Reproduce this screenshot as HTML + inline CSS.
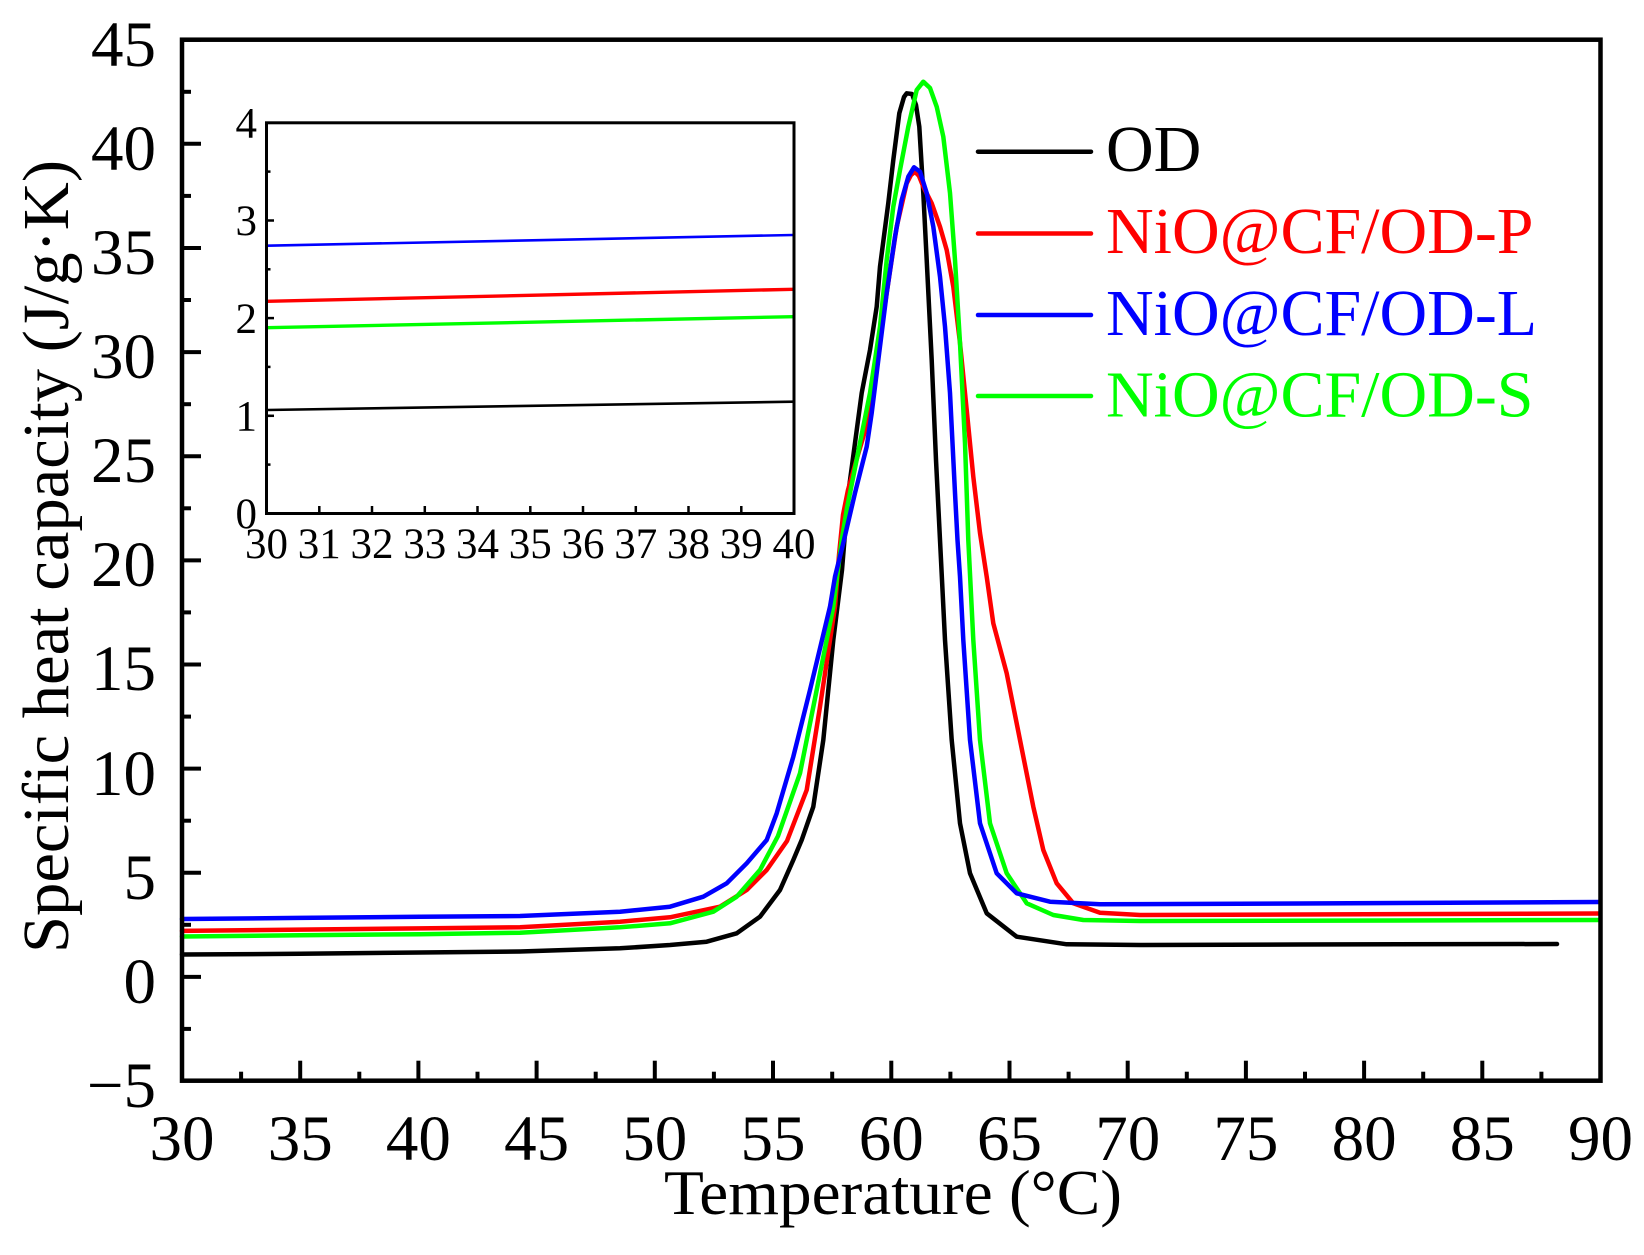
<!DOCTYPE html>
<html>
<head>
<meta charset="utf-8">
<style>
  html, body { margin: 0; padding: 0; background: #fff; }
  svg { display: block; }
  text { font-family: "Liberation Serif", "Times New Roman", serif; }
</style>
</head>
<body>
<svg width="1644" height="1255" viewBox="0 0 1644 1255" xmlns="http://www.w3.org/2000/svg">
  <rect x="0" y="0" width="1644" height="1255" fill="#fff"/>

  <!-- Main curves -->
  <g fill="none" stroke-linejoin="round" stroke-linecap="round" stroke-width="4.5">
    <!-- OD black -->
    <polyline stroke="#000" points="182,954.5 300,953.8 420,952.5 520,951.5 620,948.3 670,945 706.7,941.7 736.7,933.3 760,916.7 780,890 793.3,860 801.7,840 813.3,806.7 823.3,740 833.3,640 842,570 848.3,493 855,443 861.7,393 870,350 876.7,306.7 880,266.7 888.3,203 893.3,160 899.3,113.3 904,97 906.7,93.3 912,94 916,105 919.3,126.7 923.3,193 926.7,260 931.7,360 936,460 940,540 945,640 951.7,740 960,823.3 970,873.3 986.7,913.3 1016.7,936.7 1066.7,944.3 1140,945 1300,944.5 1557,944"/>
    <!-- NiO@CF/OD-P red -->
    <polyline stroke="#ff0000" points="182,930.9 300,929.6 420,928.4 520,927.3 620,921.7 670,917.3 720,906.7 746.7,890 766.7,870 787,841 806.7,790 820,706.7 835,606.7 839,555 843,515 848,490 857,458 868.3,420 876.7,360 886.7,293 896.7,226.7 906.7,183.3 911,175 915,171.7 919,176 923.3,186.7 931.7,203.3 940,226.7 946.7,250 953.3,286.7 960,343 966.7,410 973.3,476.7 980,533 986.7,576.7 993.3,623.3 1006.7,673.3 1020,740 1033.3,806.7 1043.3,850 1056.7,883.3 1073.3,903.3 1100,912.7 1140,915 1300,914.5 1600,913.5"/>
    <!-- NiO@CF/OD-S green -->
    <polyline stroke="#00ff00" points="182,936.5 300,935.3 420,934.2 520,932.7 620,927.3 670,923.3 713.3,911.7 736.7,896.7 760,870 778,836 800,773.3 816.7,690 833.3,606.7 841.7,540 847,508 860,443 870,393 880,326.7 886.7,260 893.3,206.7 900,170 908.3,126.7 916.7,90 923.3,81.7 930,88 936.7,106.7 943.3,136.7 950,193 955,260 960,343 965,443 968.3,540 973.3,640 980,740 990,823.3 1006.7,873.3 1026.7,903.3 1053.3,915 1083.3,920 1140,921 1600,920"/>
    <!-- NiO@CF/OD-L blue -->
    <polyline stroke="#0000ff" points="182,919 300,917.9 420,916.7 520,916 620,911.7 670,906.7 703.3,896.7 726.7,883.3 746.7,863.3 766.7,840 776.7,813.3 793.3,756.7 810,690 830,606.7 835,576.7 843.3,543 855,493 866.7,446.7 871.7,413 878.3,360 886.7,293 895,236.7 901.7,200 908.3,176.7 914,167.3 920,171.7 926.7,193 933.3,226.7 940,276.7 945,326.7 950,393 955,493 957.5,540 960,576.7 963.3,640 970,740 980,823.3 996.7,873.3 1016.7,893.3 1050,901.7 1100,904.3 1300,903.5 1600,902"/>
  </g>

  <!-- Main frame -->
  <rect x="182" y="39.7" width="1418.5" height="1041" fill="none" stroke="#000" stroke-width="4.5"/>

  <!-- Y ticks main -->
  <g stroke="#000" stroke-width="4">
    <line x1="182" y1="39.7" x2="201" y2="39.7"/>
    <line x1="182" y1="91.8" x2="191" y2="91.8"/>
    <line x1="182" y1="143.8" x2="201" y2="143.8"/>
    <line x1="182" y1="195.9" x2="191" y2="195.9"/>
    <line x1="182" y1="248" x2="201" y2="248"/>
    <line x1="182" y1="300" x2="191" y2="300"/>
    <line x1="182" y1="352.1" x2="201" y2="352.1"/>
    <line x1="182" y1="404.2" x2="191" y2="404.2"/>
    <line x1="182" y1="456.2" x2="201" y2="456.2"/>
    <line x1="182" y1="508.3" x2="191" y2="508.3"/>
    <line x1="182" y1="560.4" x2="201" y2="560.4"/>
    <line x1="182" y1="612.4" x2="191" y2="612.4"/>
    <line x1="182" y1="664.5" x2="201" y2="664.5"/>
    <line x1="182" y1="716.6" x2="191" y2="716.6"/>
    <line x1="182" y1="768.6" x2="201" y2="768.6"/>
    <line x1="182" y1="820.7" x2="191" y2="820.7"/>
    <line x1="182" y1="872.8" x2="201" y2="872.8"/>
    <line x1="182" y1="924.8" x2="191" y2="924.8"/>
    <line x1="182" y1="976.9" x2="201" y2="976.9"/>
    <line x1="182" y1="1028.9" x2="191" y2="1028.9"/>
  </g>

  <!-- X ticks main -->
  <g stroke="#000" stroke-width="4">
    <line x1="241.1" y1="1080.7" x2="241.1" y2="1071.7"/>
    <line x1="300.2" y1="1080.7" x2="300.2" y2="1060.7"/>
    <line x1="359.3" y1="1080.7" x2="359.3" y2="1071.7"/>
    <line x1="418.4" y1="1080.7" x2="418.4" y2="1060.7"/>
    <line x1="477.5" y1="1080.7" x2="477.5" y2="1071.7"/>
    <line x1="536.6" y1="1080.7" x2="536.6" y2="1060.7"/>
    <line x1="595.7" y1="1080.7" x2="595.7" y2="1071.7"/>
    <line x1="654.8" y1="1080.7" x2="654.8" y2="1060.7"/>
    <line x1="713.9" y1="1080.7" x2="713.9" y2="1071.7"/>
    <line x1="773" y1="1080.7" x2="773" y2="1060.7"/>
    <line x1="832.2" y1="1080.7" x2="832.2" y2="1071.7"/>
    <line x1="891.3" y1="1080.7" x2="891.3" y2="1060.7"/>
    <line x1="950.4" y1="1080.7" x2="950.4" y2="1071.7"/>
    <line x1="1009.5" y1="1080.7" x2="1009.5" y2="1060.7"/>
    <line x1="1068.6" y1="1080.7" x2="1068.6" y2="1071.7"/>
    <line x1="1127.7" y1="1080.7" x2="1127.7" y2="1060.7"/>
    <line x1="1186.8" y1="1080.7" x2="1186.8" y2="1071.7"/>
    <line x1="1245.9" y1="1080.7" x2="1245.9" y2="1060.7"/>
    <line x1="1305" y1="1080.7" x2="1305" y2="1071.7"/>
    <line x1="1364.1" y1="1080.7" x2="1364.1" y2="1060.7"/>
    <line x1="1423.2" y1="1080.7" x2="1423.2" y2="1071.7"/>
    <line x1="1482.3" y1="1080.7" x2="1482.3" y2="1060.7"/>
    <line x1="1541.4" y1="1080.7" x2="1541.4" y2="1071.7"/>
  </g>

  <!-- Y tick labels main -->
  <g font-size="65" text-anchor="end" fill="#000">
    <text x="156" y="66">45</text>
    <text x="156" y="170">40</text>
    <text x="156" y="274">35</text>
    <text x="156" y="378">30</text>
    <text x="156" y="482">25</text>
    <text x="156" y="586">20</text>
    <text x="156" y="690">15</text>
    <text x="156" y="795">10</text>
    <text x="156" y="899">5</text>
    <text x="156" y="1003">0</text>
    <text x="156" y="1107">−5</text>
  </g>

  <!-- X tick labels main -->
  <g font-size="65" text-anchor="middle" fill="#000">
    <text x="182" y="1160">30</text>
    <text x="300.2" y="1160">35</text>
    <text x="418.4" y="1160">40</text>
    <text x="536.6" y="1160">45</text>
    <text x="654.8" y="1160">50</text>
    <text x="773" y="1160">55</text>
    <text x="891.3" y="1160">60</text>
    <text x="1009.5" y="1160">65</text>
    <text x="1127.7" y="1160">70</text>
    <text x="1245.9" y="1160">75</text>
    <text x="1364.1" y="1160">80</text>
    <text x="1482.3" y="1160">85</text>
    <text x="1600.5" y="1160">90</text>
  </g>

  <!-- Axis titles -->
  <text x="664" y="1214" font-size="64" textLength="458" lengthAdjust="spacingAndGlyphs" fill="#000">Temperature (°C)</text>
  <text transform="translate(68,953) rotate(-90)" x="0" y="0" font-size="66" textLength="793" lengthAdjust="spacingAndGlyphs" fill="#000">Specific heat capacity (J/g·K)</text>

  <!-- Legend -->
  <g stroke-width="4.5" stroke-linecap="round">
    <line x1="978" y1="151.7" x2="1091" y2="151.7" stroke="#000"/>
    <line x1="978" y1="233.5" x2="1091" y2="233.5" stroke="#ff0000"/>
    <line x1="978" y1="315" x2="1091" y2="315" stroke="#0000ff"/>
    <line x1="978" y1="396" x2="1091" y2="396" stroke="#00ff00"/>
  </g>
  <g font-size="66">
    <text x="1106" y="171" fill="#000">OD</text>
    <text x="1106" y="253" fill="#ff0000">NiO@CF/OD-P</text>
    <text x="1106" y="335" fill="#0000ff">NiO@CF/OD-L</text>
    <text x="1106" y="416.5" fill="#00ff00">NiO@CF/OD-S</text>
  </g>

  <!-- Inset -->
  <rect x="266.5" y="122.8" width="527.5" height="390.7" fill="#fff" stroke="none"/>
  <g fill="none" stroke-linecap="butt">
    <line x1="267" y1="410" x2="793" y2="401.7" stroke="#000" stroke-width="2.6"/>
    <line x1="267" y1="327.7" x2="793" y2="316.7" stroke="#00ff00" stroke-width="3.4"/>
    <line x1="267" y1="301.3" x2="793" y2="289.3" stroke="#ff0000" stroke-width="3.4"/>
    <line x1="267" y1="245.7" x2="793" y2="235" stroke="#0000ff" stroke-width="2.6"/>
  </g>
  <rect x="266.5" y="122.8" width="527.5" height="390.7" fill="none" stroke="#000" stroke-width="3"/>
  <!-- inset y ticks -->
  <g stroke="#000" stroke-width="2.5">
    <line x1="266.5" y1="415.8" x2="270.5" y2="415.8"/>
    <line x1="266.5" y1="318.1" x2="274" y2="318.1"/>
    <line x1="266.5" y1="220.5" x2="274" y2="220.5"/>
    <line x1="266.5" y1="415.8" x2="274" y2="415.8"/>
    <line x1="266.5" y1="171.6" x2="270.5" y2="171.6"/>
    <line x1="266.5" y1="269.3" x2="270.5" y2="269.3"/>
    <line x1="266.5" y1="366.9" x2="270.5" y2="366.9"/>
    <line x1="266.5" y1="464.6" x2="270.5" y2="464.6"/>
  </g>
  <g stroke="#000" stroke-width="2.5">
    <line x1="319.3" y1="513.5" x2="319.3" y2="506"/>
    <line x1="372" y1="513.5" x2="372" y2="506"/>
    <line x1="424.8" y1="513.5" x2="424.8" y2="506"/>
    <line x1="477.5" y1="513.5" x2="477.5" y2="506"/>
    <line x1="530.3" y1="513.5" x2="530.3" y2="506"/>
    <line x1="583" y1="513.5" x2="583" y2="506"/>
    <line x1="635.8" y1="513.5" x2="635.8" y2="506"/>
    <line x1="688.5" y1="513.5" x2="688.5" y2="506"/>
    <line x1="741.3" y1="513.5" x2="741.3" y2="506"/>
  </g>
  <!-- inset y labels -->
  <g font-size="43" text-anchor="end" fill="#000">
    <text x="257" y="137.5">4</text>
    <text x="257" y="235">3</text>
    <text x="257" y="333">2</text>
    <text x="257" y="430.5">1</text>
    <text x="257" y="528">0</text>
  </g>
  <!-- inset x labels -->
  <g font-size="43" text-anchor="middle" fill="#000">
    <text x="266.5" y="558">30</text>
    <text x="319.3" y="558">31</text>
    <text x="372" y="558">32</text>
    <text x="424.8" y="558">33</text>
    <text x="477.5" y="558">34</text>
    <text x="530.3" y="558">35</text>
    <text x="583" y="558">36</text>
    <text x="635.8" y="558">37</text>
    <text x="688.5" y="558">38</text>
    <text x="741.3" y="558">39</text>
    <text x="794" y="558">40</text>
  </g>
</svg>
</body>
</html>
